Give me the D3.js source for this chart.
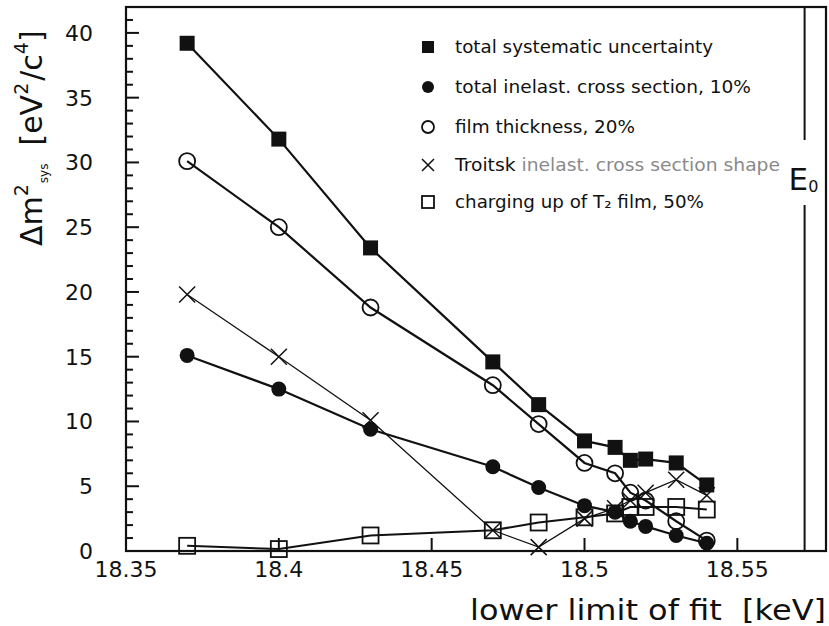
<!DOCTYPE html>
<html>
<head>
<meta charset="utf-8">
<script src="https://cdn.jsdelivr.net/npm/d3@7/dist/d3.min.js"></script>
<style>
  body { margin: 0; background: #fff; }
  svg { display: block; font-family: "DejaVu Sans", sans-serif; }
</style>
</head>
<body>
<svg id="chart" width="829" height="626"></svg>
<script>
// lower limit of fit [keV]
const fitLimits = [18.37, 18.40, 18.43, 18.47, 18.485, 18.50, 18.51, 18.515, 18.52, 18.53, 18.54];

// systematic contributions to m^2 [eV^2/c^4]
const totalSyst     = [39.2, 31.8, 23.4, 14.6, 11.3, 8.5, 8.0, 7.0, 7.1, 6.8, 5.1];
const inelastTotal  = [15.1, 12.5, 9.4, 6.5, 4.9, 3.5, 3.0, 2.3, 1.9, 1.2, 0.6];
const filmThickness = [30.1, 25.0, 18.8, 12.8, 9.8, 6.8, 6.0, 4.5, 3.9, 2.3, 0.8];
const troitskShape  = [19.8, 15.0, 10.1, 1.6, 0.3, 2.5, 3.3, 3.9, 4.5, 5.5, 4.3];
const chargingUp    = [0.4, 0.15, 1.2, 1.6, 2.2, 2.6, 2.9, 3.4, 3.4, 3.4, 3.2];

const seriesNames = [
  "total systematic uncertainty",
  "total inelast. cross section, 10%",
  "film thickness, 20%",
  "Troitsk inelast. cross section shape",
  "charging up of T\u2082 film, 50%"
];

const xTicks = [18.35, 18.4, 18.45, 18.5, 18.55];
const yTicks = [0, 5, 10, 15, 20, 25, 30, 35, 40];
const endpointE0 = 18.572;

const ink = "#111";
const svg = d3.select("#chart");

const x = d3.scaleLinear().domain([18.35, 18.579]).range([126, 826]);
const y = d3.scaleLinear().domain([0, 42]).range([551, 7]);

// frame
svg.append("rect")
  .attr("x", x.range()[0]).attr("y", y.range()[1])
  .attr("width", x.range()[1] - x.range()[0])
  .attr("height", y.range()[0] - y.range()[1])
  .attr("fill", "none").attr("stroke", ink).attr("stroke-width", 2.2);

// y ticks (inside), minor every 1
const yAxis = svg.append("g");
yAxis.selectAll("line")
  .data(d3.range(0, 42, 1))
  .enter().append("line")
  .attr("x1", x.range()[0])
  .attr("x2", d => x.range()[0] + (d % 5 === 0 ? 13 : 7))
  .attr("y1", d => y(d)).attr("y2", d => y(d))
  .attr("stroke", ink).attr("stroke-width", 2);
yAxis.selectAll("text")
  .data(yTicks)
  .enter().append("text")
  .attr("x", 93).attr("y", d => y(d) + 8)
  .attr("text-anchor", "end")
  .attr("font-size", 22)
  .attr("fill", ink)
  .text(d => d);

// x ticks (inside)
const xAxis = svg.append("g");
xAxis.selectAll("line")
  .data(xTicks.slice(1))
  .enter().append("line")
  .attr("x1", d => x(d)).attr("x2", d => x(d))
  .attr("y1", y.range()[0]).attr("y2", y.range()[0] - 13)
  .attr("stroke", ink).attr("stroke-width", 2);
xAxis.selectAll("text")
  .data(xTicks)
  .enter().append("text")
  .attr("x", d => x(d)).attr("y", 577)
  .attr("text-anchor", "middle")
  .attr("font-size", 22)
  .attr("fill", ink)
  .text(d => d);

// E0 marker line, broken around its label
const e0x = x(endpointE0);
svg.append("line")
  .attr("x1", e0x).attr("x2", e0x).attr("y1", y.range()[1]).attr("y2", 140)
  .attr("stroke", ink).attr("stroke-width", 2);
svg.append("line")
  .attr("x1", e0x).attr("x2", e0x).attr("y1", 205).attr("y2", y.range()[0])
  .attr("stroke", ink).attr("stroke-width", 2);
const e0 = svg.append("text")
  .attr("x", e0x - 16).attr("y", 190)
  .attr("font-size", 31).attr("fill", ink)
  .text("E");
e0.append("tspan").attr("font-size", 16).attr("dy", 2).text("0");

// markers
function drawMarker(g, kind, cx, cy, s) {
  if (kind === "fsq") {
    g.append("rect").attr("x", cx - s / 2).attr("y", cy - s / 2)
      .attr("width", s).attr("height", s).attr("fill", ink);
  } else if (kind === "osq") {
    g.append("rect").attr("x", cx - s / 2).attr("y", cy - s / 2)
      .attr("width", s).attr("height", s)
      .attr("fill", "none").attr("stroke", ink).attr("stroke-width", 1.8);
  } else if (kind === "fci") {
    g.append("circle").attr("cx", cx).attr("cy", cy).attr("r", s / 2).attr("fill", ink);
  } else if (kind === "oci") {
    g.append("circle").attr("cx", cx).attr("cy", cy).attr("r", s / 2)
      .attr("fill", "none").attr("stroke", ink).attr("stroke-width", 1.8);
  } else if (kind === "x") {
    const h = s / 2;
    g.append("path")
      .attr("d", `M${cx - h},${cy - h}L${cx + h},${cy + h}M${cx - h},${cy + h}L${cx + h},${cy - h}`)
      .attr("stroke", ink).attr("stroke-width", 1.5).attr("fill", "none");
  }
}

const series = [
  { values: chargingUp, kind: "osq", width: 2, size: 16 },
  { values: troitskShape, kind: "x", width: 1.3, size: 16 },
  { values: inelastTotal, kind: "fci", width: 2.2, size: 15 },
  { values: filmThickness, kind: "oci", width: 2.2, size: 16 },
  { values: totalSyst, kind: "fsq", width: 2.2, size: 15 }
];

const line = d3.line().x(d => x(d[0])).y(d => y(d[1]));

series.forEach(s => {
  const pts = fitLimits.map((f, i) => [f, s.values[i]]);
  const g = svg.append("g");
  g.append("path")
    .attr("d", line(pts))
    .attr("fill", "none")
    .attr("stroke", ink)
    .attr("stroke-width", s.width);
  pts.forEach(p => drawMarker(g, s.kind, x(p[0]), y(p[1]), s.size));
});

// legend
const legendKinds = ["fsq", "fci", "oci", "x", "osq"];
const legendRows = [47, 87, 127, 165, 202];
const legendWidths = [258, 296, 180, 325, 249];
const legend = svg.append("g");
seriesNames.forEach((name, i) => {
  drawMarker(legend, legendKinds[i], 428, legendRows[i], 12);
  const t = legend.append("text")
    .attr("x", 455).attr("y", legendRows[i] + 6)
    .attr("font-size", 17)
    .attr("fill", ink)
    .attr("textLength", legendWidths[i])
    .attr("lengthAdjust", "spacingAndGlyphs");
  if (i === 3) {
    t.append("tspan").text("Troitsk ");
    t.append("tspan").attr("fill", "#8a8a8a").text("inelast. cross section shape");
  } else {
    t.text(name);
  }
});

// axis titles
svg.append("text")
  .attr("x", 826).attr("y", 620)
  .attr("text-anchor", "end")
  .attr("font-size", 28)
  .attr("fill", ink)
  .attr("textLength", 356)
  .attr("lengthAdjust", "spacingAndGlyphs")
  .text("lower limit of fit\u00a0\u00a0[keV]");

const yTitle = svg.append("text")
  .attr("transform", "translate(42,246) rotate(-90)")
  .attr("font-size", 30)
  .attr("fill", ink);
yTitle.append("tspan").text("\u0394m");
yTitle.append("tspan").attr("font-size", 19).attr("dy", -14).text("2");
yTitle.append("tspan").attr("font-size", 12).attr("dy", 20).attr("dx", 1).text("sys");
yTitle.append("tspan").attr("dy", -6).attr("dx", 18).text("[eV");
yTitle.append("tspan").attr("font-size", 19).attr("dy", -14).text("2");
yTitle.append("tspan").attr("dy", 14).attr("dx", 2).text("/c");
yTitle.append("tspan").attr("font-size", 19).attr("dy", -14).text("4");
yTitle.append("tspan").attr("dy", 14).text("]");
</script>
</body>
</html>
